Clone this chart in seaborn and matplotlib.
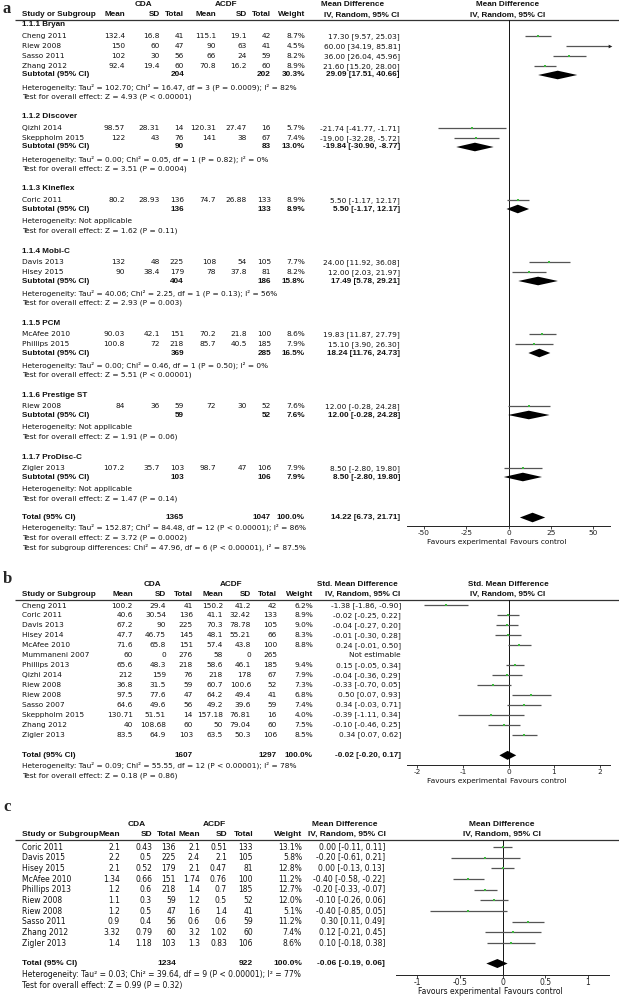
import numpy as np
import pandas as pd
import matplotlib
matplotlib.use("Agg")
import matplotlib.pyplot as plt
import seaborn as sns

sns.set_theme(style="white")
plt.rcParams['font.family'] = ['DejaVu Sans']
plt.rcParams['axes.unicode_minus'] = False

# ---------------- data: panel a ----------------
a_sub_names = ["1.1.1 Bryan", "1.1.2 Discover", "1.1.3 Kineflex", "1.1.4 Mobi-C",
               "1.1.5 PCM", "1.1.6 Prestige ST", "1.1.7 ProDisc-C"]
a_study = ["Cheng 2011", "Riew 2008", "Sasso 2011", "Zhang 2012", "Qizhi 2014", "Skeppholm 2015",
           "Coric 2011", "Davis 2013", "Hisey 2015", "McAfee 2010", "Phillips 2015", "Riew 2008", "Zigler 2013"]
a_group = [0, 0, 0, 0, 1, 1, 2, 3, 3, 4, 4, 5, 6]
a_cda_mean = [132.4, 150, 102, 92.4, 98.57, 122, 80.2, 132, 90, 90.03, 100.8, 84, 107.2]
a_cda_sd = [16.8, 60, 30, 19.4, 28.31, 43, 28.93, 48, 38.4, 42.1, 72, 36, 35.7]
a_cda_n = [41, 47, 56, 60, 14, 76, 136, 225, 179, 151, 218, 59, 103]
a_acdf_mean = [115.1, 90, 66, 70.8, 120.31, 141, 74.7, 108, 78, 70.2, 85.7, 72, 98.7]
a_acdf_sd = [19.1, 63, 24, 16.2, 27.47, 38, 26.88, 54, 37.8, 21.8, 40.5, 30, 47]
a_acdf_n = [42, 41, 59, 60, 16, 67, 133, 105, 81, 100, 185, 52, 106]
a_weight = [8.7, 4.5, 8.2, 8.9, 5.7, 7.4, 8.9, 7.7, 8.2, 8.6, 7.9, 7.6, 7.9]
a_md = [17.30, 60.00, 36.00, 21.60, -21.74, -19.00, 5.50, 24.00, 12.00, 19.83, 15.10, 12.00, 8.50]
a_lo = [9.57, 34.19, 26.04, 15.20, -41.77, -32.28, -1.17, 11.92, 2.03, 11.87, 3.90, -0.28, -2.80]
a_hi = [25.03, 85.81, 45.96, 28.00, -1.71, -5.72, 12.17, 36.08, 21.97, 27.79, 26.30, 24.28, 19.80]
a_sub_cda_n = [204, 90, 136, 404, 369, 59, 103]
a_sub_acdf_n = [202, 83, 133, 186, 285, 52, 106]
a_sub_weight = [30.3, 13.0, 8.9, 15.8, 16.5, 7.6, 7.9]
a_sub_md = [29.09, -19.84, 5.50, 17.49, 18.24, 12.00, 8.50]
a_sub_lo = [17.51, -30.90, -1.17, 5.78, 11.76, -0.28, -2.80]
a_sub_hi = [40.66, -8.77, 12.17, 29.21, 24.73, 24.28, 19.80]
a_sub_het = ["Heterogeneity: Tau² = 102.70; Chi² = 16.47, df = 3 (P = 0.0009); I² = 82%",
             "Heterogeneity: Tau² = 0.00; Chi² = 0.05, df = 1 (P = 0.82); I² = 0%",
             "Heterogeneity: Not applicable",
             "Heterogeneity: Tau² = 40.06; Chi² = 2.25, df = 1 (P = 0.13); I² = 56%",
             "Heterogeneity: Tau² = 0.00; Chi² = 0.46, df = 1 (P = 0.50); I² = 0%",
             "Heterogeneity: Not applicable",
             "Heterogeneity: Not applicable"]
a_sub_test = ["Test for overall effect: Z = 4.93 (P < 0.00001)",
              "Test for overall effect: Z = 3.51 (P = 0.0004)",
              "Test for overall effect: Z = 1.62 (P = 0.11)",
              "Test for overall effect: Z = 2.93 (P = 0.003)",
              "Test for overall effect: Z = 5.51 (P < 0.00001)",
              "Test for overall effect: Z = 1.91 (P = 0.06)",
              "Test for overall effect: Z = 1.47 (P = 0.14)"]
a_total = dict(cn=1365, an=1047, w=100.0, md=14.22, lo=6.73, hi=21.71)
a_total_text = ["Heterogeneity: Tau² = 152.87; Chi² = 84.48, df = 12 (P < 0.00001); I² = 86%",
                "Test for overall effect: Z = 3.72 (P = 0.0002)",
                "Test for subgroup differences: Chi² = 47.96, df = 6 (P < 0.00001), I² = 87.5%"]

# ---------------- data: panel b ----------------
b_study = ["Cheng 2011", "Coric 2011", "Davis 2013", "Hisey 2014", "McAfee 2010", "Mummaneni 2007",
           "Phillips 2013", "Qizhi 2014", "Riew 2008", "Riew 2008", "Sasso 2007", "Skeppholm 2015",
           "Zhang 2012", "Zigler 2013"]
b_cda_mean = [100.2, 40.6, 67.2, 47.7, 71.6, 60, 65.6, 212, 36.8, 97.5, 64.6, 130.71, 40, 83.5]
b_cda_sd = [29.4, 30.54, 90, 46.75, 65.8, 0, 48.3, 159, 31.5, 77.6, 49.6, 51.51, 108.68, 64.9]
b_cda_n = [41, 136, 225, 145, 151, 276, 218, 76, 59, 47, 56, 14, 60, 103]
b_acdf_mean = [150.2, 41.1, 70.3, 48.1, 57.4, 58, 58.6, 218, 60.7, 64.2, 49.2, 157.18, 50, 63.5]
b_acdf_sd = [41.2, 32.42, 78.78, 55.21, 43.8, 0, 46.1, 178, 100.6, 49.4, 39.6, 76.81, 79.04, 50.3]
b_acdf_n = [42, 133, 105, 66, 100, 265, 185, 67, 52, 41, 59, 16, 60, 106]
b_weight = [6.2, 8.9, 9.0, 8.3, 8.8, np.nan, 9.4, 7.9, 7.3, 6.8, 7.4, 4.0, 7.5, 8.5]
b_md = [-1.38, -0.02, -0.04, -0.01, 0.24, np.nan, 0.15, -0.04, -0.33, 0.50, 0.34, -0.39, -0.10, 0.34]
b_lo = [-1.86, -0.25, -0.27, -0.30, -0.01, np.nan, -0.05, -0.36, -0.70, 0.07, -0.03, -1.11, -0.46, 0.07]
b_hi = [-0.90, 0.22, 0.20, 0.28, 0.50, np.nan, 0.34, 0.29, 0.05, 0.93, 0.71, 0.34, 0.25, 0.62]
b_total = dict(cn=1607, an=1297, w=100.0, md=-0.02, lo=-0.20, hi=0.17)
b_total_text = ["Heterogeneity: Tau² = 0.09; Chi² = 55.55, df = 12 (P < 0.00001); I² = 78%",
                "Test for overall effect: Z = 0.18 (P = 0.86)"]

# ---------------- data: panel c ----------------
c_study = ["Coric 2011", "Davis 2015", "Hisey 2015", "McAfee 2010", "Phillips 2013", "Riew 2008",
           "Riew 2008", "Sasso 2011", "Zhang 2012", "Zigler 2013"]
c_cda_mean = [2.1, 2.2, 2.1, 1.34, 1.2, 1.1, 1.2, 0.9, 3.32, 1.4]
c_cda_sd = [0.43, 0.5, 0.52, 0.66, 0.6, 0.3, 0.5, 0.4, 0.79, 1.18]
c_cda_n = [136, 225, 179, 151, 218, 59, 47, 56, 60, 103]
c_acdf_mean = [2.1, 2.4, 2.1, 1.74, 1.4, 1.2, 1.6, 0.6, 3.2, 1.3]
c_acdf_sd = [0.51, 2.1, 0.47, 0.76, 0.7, 0.5, 1.4, 0.6, 1.02, 0.83]
c_acdf_n = [133, 105, 81, 100, 185, 52, 41, 59, 60, 106]
c_weight = [13.1, 5.8, 12.8, 11.2, 12.7, 12.0, 5.1, 11.2, 7.4, 8.6]
c_md = [0.00, -0.20, 0.00, -0.40, -0.20, -0.10, -0.40, 0.30, 0.12, 0.10]
c_lo = [-0.11, -0.61, -0.13, -0.58, -0.33, -0.26, -0.85, 0.11, -0.21, -0.18]
c_hi = [0.11, 0.21, 0.13, -0.22, -0.07, 0.06, 0.05, 0.49, 0.45, 0.38]
c_total = dict(cn=1234, an=922, w=100.0, md=-0.06, lo=-0.19, hi=0.06)
c_total_text = ["Heterogeneity: Tau² = 0.03; Chi² = 39.64, df = 9 (P < 0.00001); I² = 77%",
                "Test for overall effect: Z = 0.99 (P = 0.32)"]

# ---------------- figure setup ----------------
W, H = 619, 997
fig = plt.figure(figsize=(W / 100, H / 100), dpi=100)
bg = fig.add_axes([0, 0, 1, 1])
bg.set_xlim(0, W)
bg.set_ylim(H, 0)
bg.axis('off')

FS = 5.3
TXT = '#111111'
GREEN = '#3cb83c'
CILINE = '#555555'
BOLD_FAMILY = ['Liberation Sans', 'DejaVu Sans']


def txt(x, y, s, ha='left', bold=False, fs=FS):
    if bold:
        bg.text(x, y, s, ha=ha, va='center', fontsize=fs * 1.1, fontweight='bold',
                family=BOLD_FAMILY, color=TXT)
    else:
        bg.text(x, y, s, ha=ha, va='center', fontsize=fs, color=TXT)


def num(v):
    return "" if (v is None or (isinstance(v, float) and np.isnan(v))) else f"{v:g}"


def pct(v):
    return "" if np.isnan(v) else f"{v:.1f}%"


def ci(m, l, h):
    return f"{m:.2f} [{l:.2f}, {h:.2f}]"


def header(cols, y1, y2, ysep, ci_title, fs):
    txt(cols['cda_c'], y1, "CDA", ha='center', bold=True, fs=fs)
    txt(cols['acdf_c'], y1, "ACDF", ha='center', bold=True, fs=fs)
    txt(cols['cih1'], y1, ci_title, ha='center', bold=True, fs=fs)
    txt(cols['cih2'], y2, "IV, Random, 95% CI", ha='center', bold=True, fs=fs)
    txt(cols['plot_c'], y1, ci_title, ha='center', bold=True, fs=fs)
    txt(cols['plot_c'], y2, "IV, Random, 95% CI", ha='center', bold=True, fs=fs)
    txt(22, y2, "Study or Subgroup", bold=True, fs=fs)
    for k, lab in zip(['cm', 'csd', 'cn', 'am', 'asd', 'an', 'w'],
                      ["Mean", "SD", "Total", "Mean", "SD", "Total", "Weight"]):
        txt(cols[k], y2, lab, ha='right', bold=True, fs=fs)
    bg.hlines(ysep, 15, W, color='#333333', lw=0.9)


def study_row(cols, y, name, vals, w, cistr, fs):
    txt(22, y, name, fs=fs)
    for k, v in zip(['cm', 'csd', 'cn', 'am', 'asd', 'an'], vals):
        txt(cols[k], y, num(v), ha='right', fs=fs)
    txt(cols['w'], y, pct(w), ha='right', fs=fs)
    txt(cols['ci'], y, cistr, ha='right', fs=fs)


def sum_row(cols, y, label, cn, an, w, cistr, fs):
    txt(22, y, label, bold=True, fs=fs)
    txt(cols['cn'], y, str(cn), ha='right', bold=True, fs=fs)
    txt(cols['an'], y, str(an), ha='right', bold=True, fs=fs)
    txt(cols['w'], y, pct(w), ha='right', bold=True, fs=fs)
    txt(cols['ci'], y, cistr, ha='right', bold=True, fs=fs)


def forest_ax(x0, x1, ytop, ybot):
    ax = fig.add_axes([x0 / W, 1 - ybot / H, (x1 - x0) / W, (ybot - ytop) / H])
    ax.patch.set_alpha(0)
    for s in ['top', 'left', 'right']:
        ax.spines[s].set_visible(False)
    ax.spines['bottom'].set_color('#222222')
    ax.spines['bottom'].set_linewidth(0.7)
    ax.axvline(0, color='#111111', lw=0.7, zorder=1)
    return ax


def finish_ax(ax, ytop, ybot, xlim, ticks, labels, fs):
    ax.set_xlim(*xlim)
    ax.set_ylim(ybot, ytop)
    ax.set_xticks(ticks)
    ax.set_xticklabels(labels, fontsize=fs, color=TXT)
    ax.tick_params(axis='x', bottom=True, length=2.0, width=0.6, pad=0.8, direction='out', colors='#222222')
    ax.set_yticks([])
    ax.set_xlabel('')
    ax.set_ylabel('')


def marks(ax, df, xlim, ms):
    d = df.dropna(subset=['md'])
    ax.hlines(d['y'], d['lo'].clip(lower=xlim[0]), d['hi'].clip(upper=xlim[1]),
              color=CILINE, lw=0.9, zorder=2)
    inside = d[(d['md'] > xlim[0]) & (d['md'] < xlim[1])]
    sns.scatterplot(data=inside, x='md', y='y', marker='s', color=GREEN, s=ms,
                    linewidth=0, ax=ax, legend=False, zorder=3)
    clipped = d[d['hi'] > xlim[1]]
    if len(clipped):
        ax.scatter(np.full(len(clipped), xlim[1]), clipped['y'], marker='>', color='#222222',
                   s=7, zorder=3, clip_on=False, linewidths=0)


def diamond(ax, y, m, lo, hi, h=4.5):
    ax.fill([lo, m, hi, m], [y, y - h, y, y + h], color='black', lw=0, zorder=3)


def favours(zero, y, fs):
    txt(zero - 1.5, y, "Favours experimental", ha='right', fs=fs)
    txt(zero + 1.5, y, "Favours control", ha='left', fs=fs)


serif = ['Liberation Serif', 'DejaVu Serif']

# ================= panel a =================
bg.text(7, 9, "a", fontsize=12, fontweight='bold', family=serif, ha='center', va='center')
cols_a = dict(cda_c=143, acdf_c=226, cm=125, csd=160, cn=184, am=216, asd=247, an=271,
              w=305, ci=400, cih1=353, cih2=362, plot_c=508)
header(cols_a, 5, 15, 20, "Mean Difference", FS)

ya = []
y = 25.0
sub_y = []
for g, gname in enumerate(a_sub_names):
    txt(22, y, gname, bold=True)
    idx = [i for i, gg in enumerate(a_group) if gg == g]
    y += 11.2
    for k, i in enumerate(idx):
        if k > 0:
            y += 10
        ya.append((i, y))
        study_row(cols_a, y, a_study[i],
                  [a_cda_mean[i], a_cda_sd[i], a_cda_n[i], a_acdf_mean[i], a_acdf_sd[i], a_acdf_n[i]],
                  a_weight[i], ci(a_md[i], a_lo[i], a_hi[i]), FS)
    y += 8.8
    sub_y.append(y)
    sum_row(cols_a, y, "Subtotal (95% CI)", a_sub_cda_n[g], a_sub_acdf_n[g], a_sub_weight[g],
            ci(a_sub_md[g], a_sub_lo[g], a_sub_hi[g]), FS)
    y += 12
    txt(22, y, a_sub_het[g])
    y += 10
    txt(22, y, a_sub_test[g])
    y += 20
y -= 1.5
tot_a_y = y
sum_row(cols_a, y, "Total (95% CI)", a_total['cn'], a_total['an'], a_total['w'],
        ci(a_total['md'], a_total['lo'], a_total['hi']), FS)
for k, s in enumerate(a_total_text):
    txt(22, y + 10 * (k + 1), s)

axis_a = tot_a_y + 8.5
xlim_a = (-60, 60)
ax_a = forest_ax(407, 610, 20, axis_a)
df_a = pd.DataFrame({'y': [yy for _, yy in ya],
                     'md': [a_md[i] for i, _ in ya],
                     'lo': [a_lo[i] for i, _ in ya],
                     'hi': [a_hi[i] for i, _ in ya]})
marks(ax_a, df_a, xlim_a, 3)
for g in range(len(a_sub_names)):
    diamond(ax_a, sub_y[g], a_sub_md[g], a_sub_lo[g], a_sub_hi[g], 4.3)
diamond(ax_a, tot_a_y, a_total['md'], a_total['lo'], a_total['hi'], 4.8)
finish_ax(ax_a, 20, axis_a, xlim_a, [-50, -25, 0, 25, 50], ["-50", "-25", "0", "25", "50"], FS)
favours(508, axis_a + 15.5, FS)

# ================= panel b =================
bg.text(7, 579, "b", fontsize=12, fontweight='bold', family=serif, ha='center', va='center')
cols_b = dict(cda_c=152, acdf_c=231, cm=133, csd=166, cn=193, am=223, asd=251, an=277,
              w=313, ci=401, cih1=357, cih2=363, plot_c=508)
header(cols_b, 584, 594, 600, "Std. Mean Difference", FS)
yb = [605.5 + 9.95 * i for i in range(len(b_study))]
for i, name in enumerate(b_study):
    cistr = "Not estimable" if np.isnan(b_md[i]) else ci(b_md[i], b_lo[i], b_hi[i])
    study_row(cols_b, yb[i], name,
              [b_cda_mean[i], b_cda_sd[i], b_cda_n[i], b_acdf_mean[i], b_acdf_sd[i], b_acdf_n[i]],
              b_weight[i], cistr, FS)
tot_b_y = yb[-1] + 20.5
sum_row(cols_b, tot_b_y, "Total (95% CI)", b_total['cn'], b_total['an'], b_total['w'],
        ci(b_total['md'], b_total['lo'], b_total['hi']), FS)
for k, s in enumerate(b_total_text):
    txt(22, tot_b_y + 10 * (k + 1), s)
axis_b = tot_b_y + 10
xlim_b = (-2.23, 2.23)
ax_b = forest_ax(407, 610, 600, axis_b)
df_b = pd.DataFrame({'y': yb, 'md': b_md, 'lo': b_lo, 'hi': b_hi})
marks(ax_b, df_b, xlim_b, 3)
diamond(ax_b, tot_b_y, b_total['md'], b_total['lo'], b_total['hi'], 4.5)
finish_ax(ax_b, 600, axis_b, xlim_b, [-2, -1, 0, 1, 2], ["-2", "-1", "0", "1", "2"], FS)
favours(508, axis_b + 15.5, FS)

# ================= panel c =================
FSC = FS * 1.03
bg.text(7, 807, "c", fontsize=12, fontweight='bold', family=serif, ha='center', va='center')
cols_c = dict(cda_c=137, acdf_c=214, cm=120, csd=152, cn=176, am=200, asd=227, an=253,
              w=302, ci=385, cih1=345, cih2=347, plot_c=502)
header(cols_c, 824, 834, 839.5, "Mean Difference", FSC)
yc = [847 + 10.67 * i for i in range(len(c_study))]
for i, name in enumerate(c_study):
    study_row(cols_c, yc[i], name,
              [c_cda_mean[i], c_cda_sd[i], c_cda_n[i], c_acdf_mean[i], c_acdf_sd[i], c_acdf_n[i]],
              c_weight[i], ci(c_md[i], c_lo[i], c_hi[i]), FSC)
tot_c_y = yc[-1] + 20.5
sum_row(cols_c, tot_c_y, "Total (95% CI)", c_total['cn'], c_total['an'], c_total['w'],
        ci(c_total['md'], c_total['lo'], c_total['hi']), FSC)
for k, s in enumerate(c_total_text):
    txt(22, tot_c_y + 11 * (k + 1), s, fs=FSC)
axis_c = tot_c_y + 11
xlim_c = (-1.25, 1.25)
ax_c = forest_ax(396, 609, 839.5, axis_c)
df_c = pd.DataFrame({'y': yc, 'md': c_md, 'lo': c_lo, 'hi': c_hi})
marks(ax_c, df_c, xlim_c, 4)
diamond(ax_c, tot_c_y, c_total['md'], c_total['lo'], c_total['hi'], 4.5)
finish_ax(ax_c, 839.5, axis_c, xlim_c, [-1, -0.5, 0, 0.5, 1], ["-1", "-0.5", "0", "0.5", "1"], FSC)
favours(502, axis_c + 17, FSC)

fig.savefig("out.png", dpi=100)
